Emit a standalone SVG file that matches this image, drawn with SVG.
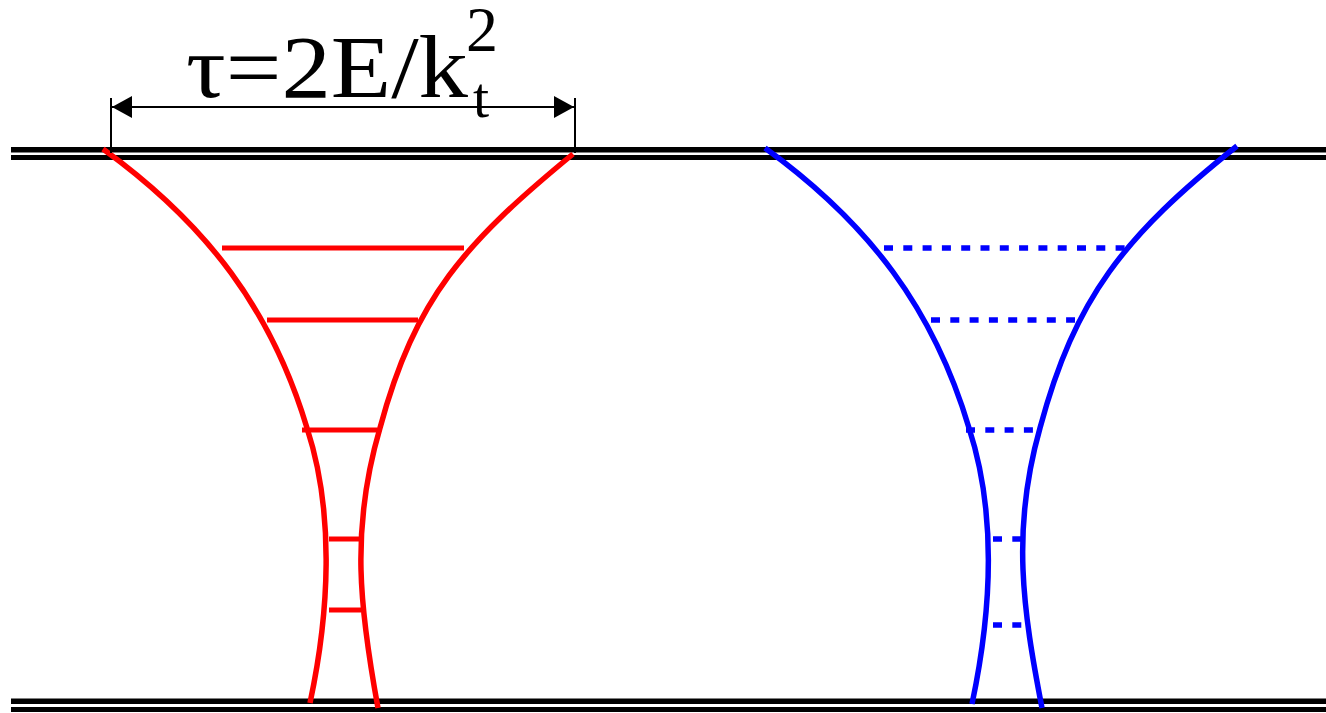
<svg xmlns="http://www.w3.org/2000/svg" width="1326" height="713" viewBox="0 0 1326 713">
<defs>
<style>
.rail{stroke:#000;fill:none}
.red{stroke:#ff0000;stroke-width:5.5;fill:none}
.blue{stroke:#0000ff;stroke-width:5.5;fill:none}
.rung{stroke:#ff0000;stroke-width:5;fill:none}
.brung{stroke:#0000ff;stroke-width:5.5;fill:none;stroke-dasharray:9 10.3}
.dim{stroke:#000;stroke-width:2;fill:none}
.lbl{font-family:"Liberation Serif","Times New Roman",serif;fill:#000}
</style>
<marker id="ah" viewBox="0 0 20 22" refX="20" refY="11" markerWidth="20" markerHeight="22" markerUnits="userSpaceOnUse" orient="auto-start-reverse">
<path d="M0,0 L20,11 L0,22 Z" fill="#000"/>
</marker>
</defs>
<rect width="1326" height="713" fill="#fff"/>
<g id="rails">
<line class="rail" x1="11" y1="149.8" x2="1326" y2="149.8" stroke-width="5.5"/>
<line class="rail" x1="11" y1="157.6" x2="1326" y2="157.6" stroke-width="5"/>
<line class="rail" x1="11" y1="701.3" x2="1326" y2="701.3" stroke-width="5.5"/>
<line class="rail" x1="11" y1="709.5" x2="1326" y2="709.5" stroke-width="5"/>
</g>
<g id="red-funnel">
<path class="red" d="M103,149 C208,225 272,311 307,428 C335,514 329,614 310,703"/>
<path class="red" d="M573,154 C464.8,242.9 415.2,297.7 380,428 C350,530 360,610 378,708"/>
<line class="rung" x1="222" y1="248" x2="464" y2="248"/>
<line class="rung" x1="267" y1="320" x2="418" y2="320"/>
<line class="rung" x1="302" y1="430" x2="379" y2="430"/>
<line class="rung" x1="329" y1="539" x2="362" y2="539"/>
<line class="rung" x1="329" y1="610" x2="361" y2="610"/>
</g>
<g id="blue-funnel">
<path class="blue" d="M765,148 C870,224 934,310 969,428 C997,514 991,614 972,704"/>
<path class="blue" d="M1237,146 C1123.8,236 1075,298 1040,428 C1011,530 1023,610 1042,708"/>
<line class="brung" x1="884" y1="248" x2="1127" y2="248"/>
<line class="brung" x1="931" y1="320" x2="1075" y2="320"/>
<line class="brung" x1="966" y1="430" x2="1033" y2="430"/>
<line class="brung" x1="993" y1="539" x2="1023" y2="539"/>
<line class="brung" x1="993" y1="625" x2="1022" y2="625"/>
</g>
<g id="connectors">
<line class="dim" x1="111" y1="98" x2="111" y2="153"/>
<line class="dim" x1="575" y1="98" x2="575" y2="153"/>
<line class="dim" x1="112" y1="107" x2="574" y2="107" marker-start="url(#ah)" marker-end="url(#ah)"/>
</g>
<g id="label">
<text class="lbl" x="186" y="97" font-size="88" textLength="282" lengthAdjust="spacingAndGlyphs">τ=2E/k</text>
<text class="lbl" x="473" y="117" font-size="58">t</text>
<text class="lbl" x="466" y="51" font-size="64">2</text>
</g>
</svg>
